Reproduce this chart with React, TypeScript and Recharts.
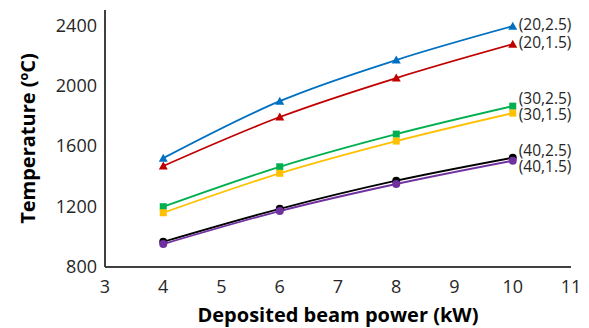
import { LineChart, Line, XAxis, YAxis, Label } from 'recharts'

const power = [4, 6, 8, 10]
const t20_25 = [1520, 1897, 2169, 2393]
const t20_15 = [1468, 1792, 2050, 2274]
const t30_25 = [1199, 1463, 1679, 1864]
const t30_15 = [1159, 1420, 1633, 1818]
const t40_25 = [967, 1185, 1371, 1523]
const t40_15 = [952, 1170, 1349, 1503]
const xTicks = [3, 4, 5, 6, 7, 8, 9, 10, 11]
const yTicks = [800, 1200, 1600, 2000, 2400]

const rows = power.map((p, i) => ({
  p, a: t20_25[i], b: t20_15[i], c: t30_25[i], d: t30_15[i], e: t40_25[i], f: t40_15[i],
}))

const FONT = '"Open Sans", "Noto Sans", sans-serif'
const TXT = '#262626'

type Shape = 'tri' | 'sq' | 'dot'

const marker = (shape: Shape, color: string) => (props: any) => {
  const { cx, cy, index } = props
  if (cx == null || cy == null) return <g key={index} />
  if (shape === 'tri') {
    return <path key={index} d={`M${cx},${cy - 4.5}L${cx + 4.5},${cy + 3.5}L${cx - 4.5},${cy + 3.5}Z`} fill={color} />
  }
  if (shape === 'sq') {
    return <rect key={index} x={cx - 3.5} y={cy - 3.5} width={7} height={7} fill={color} />
  }
  return <circle key={index} cx={cx} cy={cy} r={4} fill={color} />
}

const endLabel = (text: string, dy: number) => (props: any) => {
  const { x, y, index } = props
  if (index !== power.length - 1) return null
  return (
    <text x={x + 6} y={y + dy} fill={TXT} fontSize={15.5} fontFamily={FONT} dominantBaseline="middle">
      {text}
    </text>
  )
}

const series = [
  { key: 'a', name: '(20,2.5)', color: '#0070C0', shape: 'tri' as Shape, dy: 0 },
  { key: 'b', name: '(20,1.5)', color: '#C00000', shape: 'tri' as Shape, dy: 0 },
  { key: 'c', name: '(30,2.5)', color: '#00B050', shape: 'sq' as Shape, dy: -6 },
  { key: 'd', name: '(30,1.5)', color: '#FFC000', shape: 'sq' as Shape, dy: 3 },
  { key: 'e', name: '(40,2.5)', color: '#000000', shape: 'dot' as Shape, dy: -6 },
  { key: 'f', name: '(40,1.5)', color: '#7030A0', shape: 'dot' as Shape, dy: 7 },
]

export default function App() {
  return (
    <div style={{ position: 'absolute', left: 0, top: 0, background: '#fff' }}>
      <LineChart width={589} height={328} data={rows} margin={{ top: 10, right: 18, bottom: 0, left: 0 }}>
        <XAxis dataKey="p" type="number" domain={[3, 11]} ticks={xTicks} height={61} tickLine={false} tickSize={0} tickMargin={13}
          stroke="#404040" strokeWidth={2} tick={{ fill: TXT, fontSize: 18, fontFamily: FONT }}>
          <Label value="Deposited beam power (kW)" position="insideBottom" offset={6}
            style={{ fill: '#000', fontSize: 20, fontWeight: 700, fontFamily: FONT }} />
        </XAxis>
        <YAxis type="number" domain={[800, 2500]} ticks={yTicks} width={105} tickLine={false} tickSize={0} tickMargin={8}
          stroke="#404040" strokeWidth={2} tick={{ fill: TXT, fontSize: 18, fontFamily: FONT }}>
          <Label value="Temperature (ºC)" angle={-90} position="insideLeft" offset={28}
            style={{ fill: '#000', fontSize: 20, fontWeight: 700, fontFamily: FONT, textAnchor: 'middle' }} />
        </YAxis>
        {series.map((s) => (
          <Line key={s.key} dataKey={s.key} type="monotone" stroke={s.color} strokeWidth={1.8}
            dot={marker(s.shape, s.color)} activeDot={false} isAnimationActive={false}
            label={endLabel(s.name, s.dy)} />
        ))}
      </LineChart>
    </div>
  )
}
